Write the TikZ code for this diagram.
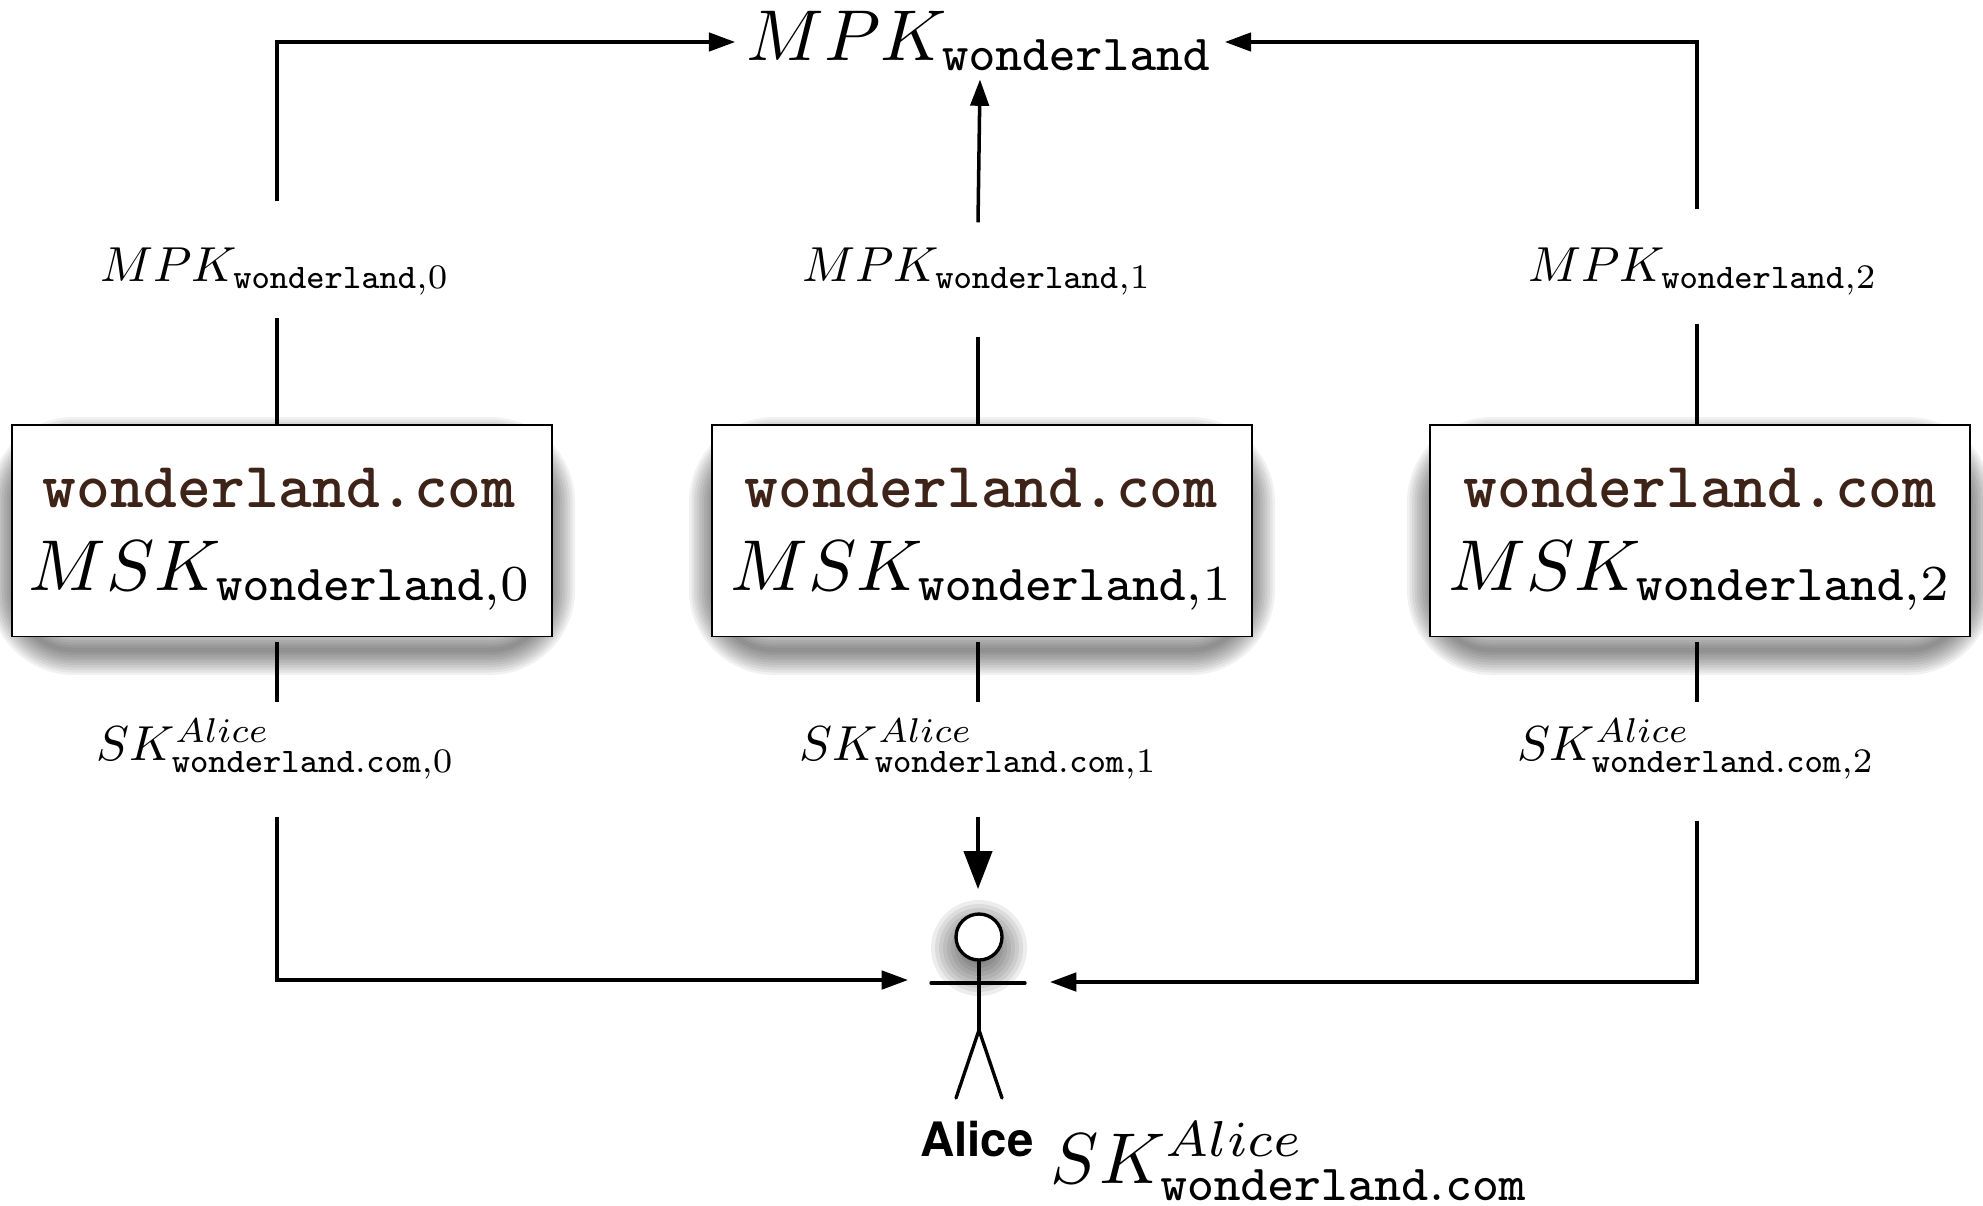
\documentclass[tikz,border=0pt]{standalone}
\usepackage[no-math]{fontspec}
\usepackage{amsmath}
\usepackage{tikz}
\usepackage{xcolor}
\usetikzlibrary{calc,arrows.meta,shapes.geometric}
\newfontfamily\alicefont{TeX Gyre Heros}
\definecolor{dbbrown}{HTML}{3E2318}
\newcommand{\dbshadow}[1]{%
    \foreach \w in {1,...,10}
        \draw[line width=\w mm,black,draw opacity=.055,rounded corners=12mm] (#1-268,442) rectangle (#1+268,650);
}
\begin{document}
\begin{tikzpicture}[x=0.02cm,y=-0.02cm]
        \tikzset{
            db/.style={draw,fill=white,line width=1.1pt,shape=cylinder,shape border rotate=90,aspect=0.16,minimum width=10.8cm,minimum height=4.24cm,inner sep=0pt},
            line/.style={line width=2pt},
            flow/.style={line width=2pt,-{Triangle[length=15pt,width=10.5pt]}},
            bigflow/.style={line width=2pt,-{Triangle[length=21.5pt,width=16pt]}},
            stick/.style={line width=1.9pt,line cap=round},
            bigtext/.style={anchor=base,scale=4.1,inner sep=0pt},
            smalltext/.style={anchor=base,scale=2.8,inner sep=0pt},
            dbname/.style={anchor=base,scale=3.66,inner sep=0pt,text=dbbrown,font=\ttfamily\bfseries}
        }
        \useasboundingbox (0,0) rectangle (1983,1205);

            \coordinate (col0) at (277,0);
            \coordinate (col1) at (978,0);
            \coordinate (col2) at (1697,0);

            \node[bigtext,text height=7.5pt,text depth=2.5pt,inner xsep=1.4pt] (mpktop) at (980,60) {$MPK_{\mathtt{wonderland}}$};

            \node[smalltext,text height=16pt,text depth=7.3pt] (mpk0) at (275,281) {$MPK_{\mathtt{wonderland},0}$};
            \node[smalltext,text height=11.7pt,text depth=11.1pt] (mpk1) at (977,281) {$MPK_{\mathtt{wonderland},1}$};
            \node[smalltext,text height=14.4pt,text depth=8.5pt] (mpk2) at (1703,281) {$MPK_{\mathtt{wonderland},2}$};

            \dbshadow{282}
            \dbshadow{982}
            \dbshadow{1700}
            \node[db] (db0) at (282,531) {};
            \node[db] (db1) at (982,531) {};
            \node[db] (db2) at (1700,531) {};

            \node[dbname] (name0) at (279,507) {wonderland.com};
            \node[dbname] (name1) at (981,507) {wonderland.com};
            \node[dbname] (name2) at (1700,507) {wonderland.com};

            \node[bigtext] (msk0) at (281,590) {$MSK_{\mathtt{wonderland},0}$};
            \node[bigtext] (msk1) at (983,590) {$MSK_{\mathtt{wonderland},1}$};
            \node[bigtext] (msk2) at (1701,590) {$MSK_{\mathtt{wonderland},2}$};

            \node[smalltext,text height=11.5pt,text depth=11.3pt] (sk0) at (276,760) {$SK^{Alice}_{\mathtt{wonderland.com},0}$};
            \node[smalltext,text height=11.5pt,text depth=11.3pt] (sk1) at (979,760) {$SK^{Alice}_{\mathtt{wonderland.com},1}$};
            \node[smalltext,text height=11.5pt,text depth=12.2pt] (sk2) at (1696,760) {$SK^{Alice}_{\mathtt{wonderland.com},2}$};

            \foreach \r in {8,12,...,48}
                \fill[black,opacity=.07] (979,948) circle (\r);
            \node[draw,circle,fill=white,line width=1.9pt,minimum size=0.92cm,inner sep=0pt] (head) at (979,937) {};
            \coordinate (armL) at (931,983);
            \coordinate (armR) at (1025,983);
            \coordinate (hip) at (979,1030);
            \coordinate (footL) at (956,1098);
            \coordinate (footR) at (1002,1098);
            \draw[stick] (head) -- (hip);
            \draw[stick] (armL) -- (armR);
            \draw[stick] (footL) -- (hip) -- (footR);

            \node[anchor=base,scale=2.7,inner sep=0pt,font=\alicefont\bfseries] (alice) at (977,1156) {Alice};
            \node[bigtext] (skalice) at (1290,1183) {$SK^{Alice}_{\mathtt{wonderland.com}}$};

            \coordinate (arrowL) at (908,980);
            \coordinate (arrowR) at (1050,982);
            \coordinate (arrowT) at (978,889);

            \draw[flow] (mpk0.north -| col0) |- (mpktop.west);
            \draw[flow] (mpk1.north -| col1) -- (mpktop.south);
            \draw[flow] (mpk2.north -| col2) |- (mpktop.east);

            \draw[line] (mpk0.south -| col0) -- (db0.north -| col0);
            \draw[line] (mpk1.south -| col1) -- (db1.north -| col1);
            \draw[line] (mpk2.south -| col2) -- (db2.north -| col2);

            \draw[line,shorten <=5*0.567pt] (db0.south -| col0) -- (sk0.north -| col0);
            \draw[line,shorten <=5*0.567pt] (db1.south -| col1) -- (sk1.north -| col1);
            \draw[line,shorten <=5*0.567pt] (db2.south -| col2) -- (sk2.north -| col2);

            \draw[flow] (sk0.south -| col0) |- (arrowL);
            \draw[bigflow] (sk1.south -| col1) -- (arrowT);
            \draw[flow] (sk2.south -| col2) |- (arrowR);

        \end{tikzpicture}
\end{document}
